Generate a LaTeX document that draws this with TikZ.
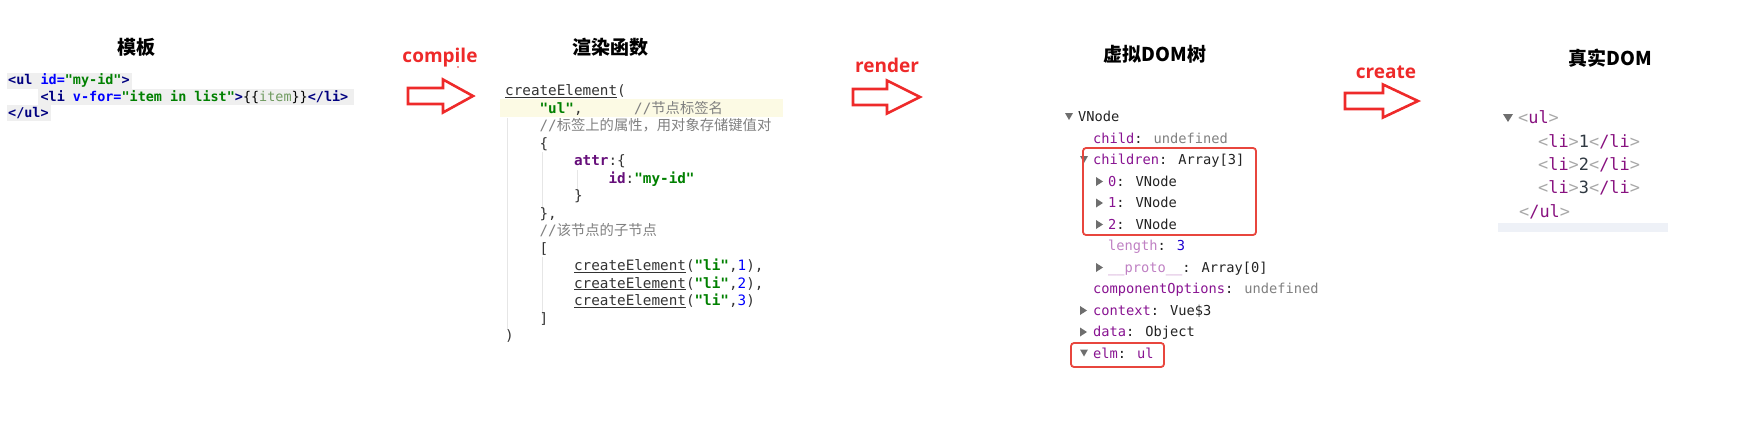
\documentclass[tikz,border=0pt]{standalone}
\usepackage{fontspec}
\setmainfont{DejaVu Sans}
\newfontfamily\cjk{Noto Sans CJK SC}
\newfontfamily\codefont{DejaVu Sans Mono}
\newfontfamily\labelfont{Open Sans}

\definecolor{arrowred}{HTML}{EE2A2A}
\definecolor{boxred}{HTML}{E8463E}
\definecolor{tagc}{HTML}{000080}
\definecolor{attrc}{HTML}{0000FF}
\definecolor{strg}{HTML}{008000}
\definecolor{itm}{HTML}{6F9A5F}
\definecolor{cmt}{HTML}{808080}
\definecolor{prop}{HTML}{660E7A}
\definecolor{num}{HTML}{0000FF}
\definecolor{fnc}{HTML}{333333}
\definecolor{linebg}{HTML}{EFEFEF}
\definecolor{caretbg}{HTML}{FCFAE4}
\definecolor{guide}{HTML}{E6E6E6}
\definecolor{devkey}{HTML}{881391}
\definecolor{devkeylt}{HTML}{BF80C3}
\definecolor{devval}{HTML}{222222}
\definecolor{devgray}{HTML}{808080}
\definecolor{devnum}{HTML}{1C00CF}
\definecolor{trigray}{HTML}{6E6E6E}
\definecolor{brk}{HTML}{A8A8A8}
\definecolor{tagp}{HTML}{881280}
\definecolor{domtxt}{HTML}{303942}
\definecolor{selbar}{HTML}{EEF1F7}

\newcommand{\cm}[1]{{\cjk #1}}
\newcommand{\ce}{\underline{createElement}}
% hollow red arrow: start x, head x, tip x, centre y
\newcommand{\redarrow}[4]{\draw[arrowline] (#1,#4-8) -- (#2,#4-8) -- (#2,#4-16.5) -- (#3,#4) -- (#2,#4+16.5) -- (#2,#4+8) -- (#1,#4+8) -- cycle;}
\newcommand{\downtri}[2]{\fill[trigray] (#1,#2-4) -- ++(8,0) -- ++(-4,7) -- cycle;}
\newcommand{\righttri}[2]{\fill[trigray] (#1,#2-4.5) -- ++(7,4.5) -- ++(-7,4.5) -- cycle;}

\tikzset{
  title/.style={anchor=base, inner sep=0pt, font=\cjk\bfseries\fontsize{19}{22}\selectfont},
  steplabel/.style={anchor=base, inner sep=0pt, text=arrowred, font=\labelfont\bfseries\fontsize{19}{22}\selectfont},
  arrowline/.style={draw=arrowred, line width=2.6pt, line join=miter},
  tpl/.style={anchor=base west, inner sep=0pt, font=\codefont\fontsize{13.45}{16}\selectfont},
  fn/.style={anchor=base west, inner sep=0pt, text=fnc, font=\codefont\fontsize{14.3}{17}\selectfont},
  dev/.style={anchor=base west, inner sep=0pt, text=devval, font=\codefont\fontsize{13.7}{16}\selectfont},
  dom/.style={anchor=base west, inner sep=0pt, text=domtxt, font=\codefont\fontsize{16.9}{20}\selectfont},
  redbox/.style={draw=boxred, line width=1.8pt, rounded corners=3pt}
}

\begin{document}
\begin{tikzpicture}[x=1pt,y=-1pt]
  \useasboundingbox (0,0) rectangle (1745,421);

  % titles
  \node[title] (tTpl) at (136,54) {模板};
  \node[title] (tRender) at (610,54) {渲染函数};
  \node[title] (tVdom) at (1155,61) {虚拟DOM树};
  \node[title] (tDom) at (1610,65) {真实DOM};

  % template
  \fill[linebg] (7,73) rectangle (132,89);
  \fill[linebg] (38,89) rectangle (354,105);
  \fill[linebg] (7,105) rectangle (51,121);
  \node[tpl] (tpl1) at (8,84.5) {\textbf{\textcolor{tagc}{<ul}\ \textcolor{attrc}{id=}\textcolor{strg}{"my-id"}\textcolor{tagc}{>}}};
  \node[tpl] (tpl2) at (40.4,101) {\textbf{\textcolor{tagc}{<li}\ \textcolor{attrc}{v-for=}\textcolor{strg}{"item\ in\ list"}\textcolor{tagc}{>}}\{\{\textcolor{itm}{item}\}\}\textbf{\textcolor{tagc}{</li>}}};
  \node[tpl] (tpl3) at (8,117.5) {\textbf{\textcolor{tagc}{</ul>}}};

  % compile
  \node[steplabel] (lCompile) at (440,62) {compile};
  \fill[arrowred] (458,67) circle (0.9);
  \redarrow{408}{443}{473}{96}

  % render function
  \fill[caretbg] (500,99) rectangle (783,117);
  \draw[guide, line width=0.8pt] (507,118) -- (507,330);
  \draw[guide, line width=0.8pt] (542,152) -- (542,210);
  \draw[guide, line width=0.8pt] (577,170) -- (577,195);
  \draw[guide, line width=0.8pt] (542,257) -- (542,315);
  \node[fn] (fn0) at (505,95.5) {\ce(};
  \node[fn] (fn1) at (539.4,113) {\textbf{\textcolor{strg}{"ul"}},};
  \node[fn,text=cmt] (fn1c) at (634,113) {//\cm{节点标签名}};
  \node[fn,text=cmt] (fn2) at (539.4,130.5) {//\cm{标签上的属性，用对象存储键值对}};
  \node[fn] (fn3) at (539.4,148) {\{};
  \node[fn] (fn4) at (573.9,165.5) {\textbf{\textcolor{prop}{attr}}:\{};
  \node[fn] (fn5) at (608.3,183) {\textbf{\textcolor{prop}{id}}:\textbf{\textcolor{strg}{"my-id"}}};
  \node[fn] (fn6) at (573.9,200.5) {\}};
  \node[fn] (fn7) at (539.4,218) {\},};
  \node[fn,text=cmt] (fn8) at (539.4,235.5) {//\cm{该节点的子节点}};
  \node[fn] (fn9) at (539.4,253) {[};
  \node[fn] (fn10) at (573.9,270.5) {\ce(\textbf{\textcolor{strg}{"li"}},\textcolor{num}{1}),};
  \node[fn] (fn11) at (573.9,288) {\ce(\textbf{\textcolor{strg}{"li"}},\textcolor{num}{2}),};
  \node[fn] (fn12) at (573.9,305.5) {\ce(\textbf{\textcolor{strg}{"li"}},\textcolor{num}{3})};
  \node[fn] (fn13) at (539.4,323) {]};
  \node[fn] (fn14) at (505,340.5) {)};

  % render
  \node[steplabel] (lRender) at (887,72) {render};
  \redarrow{853}{887}{920}{97}

  % virtual dom
  \downtri{1065}{117}
  \node[dev] (vn0) at (1078,121.5) {VNode};
  \node[dev] (vn1) at (1093,143) {\textcolor{devkey}{child}: \textcolor{devgray}{undefined}};
  \downtri{1080}{160}
  \node[dev] (vn2) at (1093,164.5) {\textcolor{devkey}{children}: Array[3]};
  \righttri{1096}{181.5}
  \node[dev] (vn3) at (1108,186) {\textcolor{devkey}{0}: VNode};
  \righttri{1096}{203}
  \node[dev] (vn4) at (1108,207.5) {\textcolor{devkey}{1}: VNode};
  \righttri{1096}{224.5}
  \node[dev] (vn5) at (1108,229) {\textcolor{devkey}{2}: VNode};
  \node[dev] (vn6) at (1108,250.5) {\textcolor{devkeylt}{length}: \textcolor{devnum}{3}};
  \righttri{1096}{267.5}
  \node[dev] (vn7) at (1108,272) {\textcolor{devkeylt}{\_\_proto\_\_}: Array[0]};
  \node[dev] (vn8) at (1093,293.5) {\textcolor{devkey}{componentOptions}: \textcolor{devgray}{undefined}};
  \righttri{1080}{310.5}
  \node[dev] (vn9) at (1093,315) {\textcolor{devkey}{context}: Vue\$3};
  \righttri{1080}{332}
  \node[dev] (vn10) at (1093,336.5) {\textcolor{devkey}{data}: Object};
  \downtri{1080}{353.5}
  \node[dev] (vn11) at (1093,358) {\textcolor{devkey}{elm}: \textcolor{devkey}{ul}};
  \draw[redbox] (1083,148) rectangle (1256,235);
  \draw[redbox] (1071,343) rectangle (1164,367);

  % create
  \node[steplabel] (lCreate) at (1386,78) {create};
  \redarrow{1345}{1383}{1418}{101}

  % real dom
  \fill[selbar] (1498,223) rectangle (1668,232);
  \fill[trigray] (1503,114) -- (1513,114) -- (1508,122) -- cycle;
  \node[dom] (dom0) at (1518,123) {\textcolor{brk}{<}\textcolor{tagp}{ul}\textcolor{brk}{>}};
  \node[dom] (dom1) at (1538,147) {\textcolor{brk}{<}\textcolor{tagp}{li}\textcolor{brk}{>}1\textcolor{brk}{<}\textcolor{tagp}{/li}\textcolor{brk}{>}};
  \node[dom] (dom2) at (1538,170) {\textcolor{brk}{<}\textcolor{tagp}{li}\textcolor{brk}{>}2\textcolor{brk}{<}\textcolor{tagp}{/li}\textcolor{brk}{>}};
  \node[dom] (dom3) at (1538,193) {\textcolor{brk}{<}\textcolor{tagp}{li}\textcolor{brk}{>}3\textcolor{brk}{<}\textcolor{tagp}{/li}\textcolor{brk}{>}};
  \node[dom] (dom4) at (1519,217) {\textcolor{brk}{<}\textcolor{tagp}{/ul}\textcolor{brk}{>}};
\end{tikzpicture}
\end{document}
